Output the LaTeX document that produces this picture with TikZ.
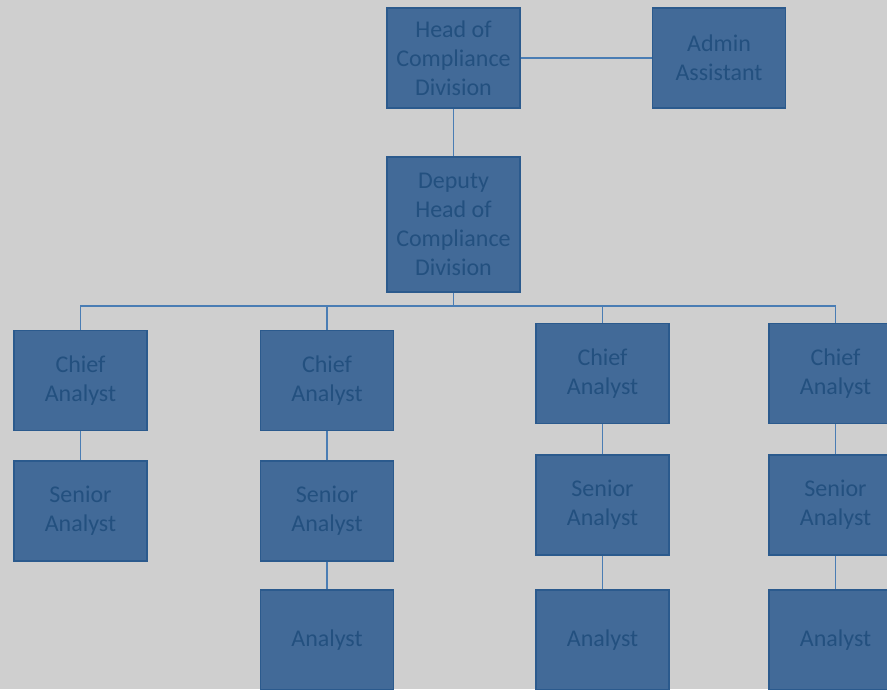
\documentclass[tikz,border=0pt]{standalone}
\usepackage{fontspec}
\setmainfont{Carlito}
\usetikzlibrary{positioning}
\definecolor{boxfill}{HTML}{426A98}
\definecolor{boxline}{HTML}{2B5A8D}
\definecolor{boxtext}{HTML}{23507F}
\definecolor{wire}{HTML}{4A7DB4}
\definecolor{paper}{HTML}{CFCFCF}

\begin{document}
\begin{tikzpicture}[x=1pt,y=-1pt,
    post/.style={draw=boxline,fill=boxfill,text=boxtext,line width=1.3pt,
      minimum width=133pt,minimum height=100pt,inner sep=0pt,align=center,
      font=\fontsize{24}{29}\selectfont},
    link/.style={draw=wire,line width=1.5pt}]
  \fill[paper] (0,0) rectangle (887,689);
  \useasboundingbox (0,0) rectangle (887,689);
  \clip (0,0) rectangle (887,689);
  \node[post] (head) at (453.5,58) {Head of\\Compliance\\Division};
  \node[post] (admin) at (719,58) {Admin\\Assistant};
  \node[post, minimum height=135pt] (deputy) at (453.5,224.5) {Deputy\\Head of\\Compliance\\Division};
  \coordinate (bus) at (453.5,306);
  \node[post] (chief1) at (80.5,380.5) {Chief\\Analyst};
  \node[post] (chief2) at (327,380.5) {Chief\\Analyst};
  \node[post] (chief3) at (602.5,373.5) {Chief\\Analyst};
  \node[post] (chief4) at (835.5,373.5) {Chief\\Analyst};
  \node[post] (senior1) at (80.5,511) {Senior\\Analyst};
  \node[post] (senior2) at (327,511) {Senior\\Analyst};
  \node[post] (senior3) at (602.5,505) {Senior\\Analyst};
  \node[post] (senior4) at (835.5,505) {Senior\\Analyst};
  \node[post] (analyst2) at (327,640) {Analyst};
  \node[post] (analyst3) at (602.5,640) {Analyst};
  \node[post] (analyst4) at (835.5,640) {Analyst};
  \draw[link] (head) -- (admin);
  \draw[link] (head) -- (deputy);
  \draw[link] (deputy) -- (bus);
  \foreach \i in {1,...,4}
    \draw[link] (bus) -| (chief\i);
  \foreach \i in {1,...,4}
    \draw[link] (chief\i) -- (senior\i);
  \foreach \i in {2,3,4}
    \draw[link] (senior\i) -- (analyst\i);
\end{tikzpicture}
\end{document}
